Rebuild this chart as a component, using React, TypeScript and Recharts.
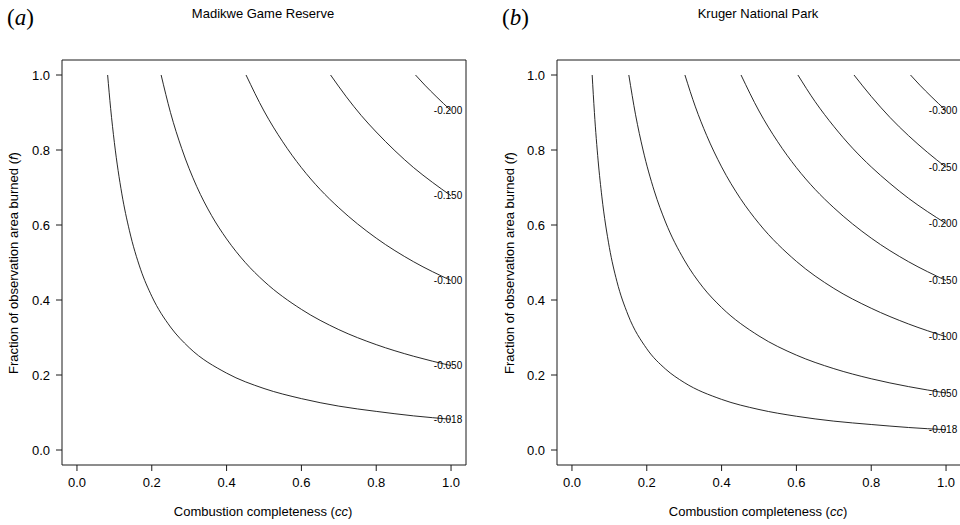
import React from 'react';
import { LineChart, Line, XAxis, YAxis } from 'recharts';

// Tick positions shared by both panels
const axisTicks = [0, 0.2, 0.4, 0.6, 0.8, 1.0];

// Madikwe Game Reserve contours: [cc, f]
const madikweLabels = ['-0.018', '-0.050', '-0.100', '-0.150', '-0.200'];
const mCurve1: [number, number][] = [
  [0.082, 1.0], [0.09, 0.911], [0.1, 0.82], [0.12, 0.683], [0.14, 0.586], [0.17, 0.482],
  [0.2, 0.41], [0.25, 0.328], [0.3, 0.273], [0.4, 0.205], [0.5, 0.164], [0.6, 0.137],
  [0.7, 0.117], [0.8, 0.103], [0.9, 0.091], [1.0, 0.082],
];
const mCurve2: [number, number][] = [
  [0.225, 1.0], [0.25, 0.9], [0.28, 0.804], [0.32, 0.703], [0.36, 0.625], [0.4, 0.563],
  [0.45, 0.5], [0.5, 0.45], [0.6, 0.375], [0.7, 0.321], [0.8, 0.281], [0.9, 0.25], [1.0, 0.225],
];
const mCurve3: [number, number][] = [
  [0.452, 1.0], [0.5, 0.904], [0.55, 0.822], [0.6, 0.753], [0.65, 0.695], [0.7, 0.646],
  [0.8, 0.565], [0.9, 0.502], [1.0, 0.452],
];
const mCurve4: [number, number][] = [
  [0.678, 1.0], [0.72, 0.942], [0.76, 0.892], [0.8, 0.848], [0.85, 0.798], [0.9, 0.753],
  [0.95, 0.714], [1.0, 0.678],
];
const mCurve5: [number, number][] = [
  [0.905, 1.0], [0.93, 0.973], [0.96, 0.943], [1.0, 0.905],
];

// Kruger National Park contours: [cc, f]
const krugerLabels = ['-0.018', '-0.050', '-0.100', '-0.150', '-0.200', '-0.250', '-0.300'];
const kCurve1: [number, number][] = [
  [0.054, 1.0], [0.06, 0.9], [0.07, 0.771], [0.08, 0.675], [0.1, 0.54], [0.12, 0.45],
  [0.15, 0.36], [0.2, 0.27], [0.25, 0.216], [0.3, 0.18], [0.4, 0.135], [0.5, 0.108],
  [0.6, 0.09], [0.7, 0.077], [0.8, 0.068], [0.9, 0.06], [1.0, 0.054],
];
const kCurve2: [number, number][] = [
  [0.152, 1.0], [0.17, 0.894], [0.19, 0.8], [0.22, 0.691], [0.25, 0.608], [0.3, 0.507],
  [0.35, 0.434], [0.4, 0.38], [0.5, 0.304], [0.6, 0.253], [0.7, 0.217], [0.8, 0.19],
  [0.9, 0.169], [1.0, 0.152],
];
const kCurve3: [number, number][] = [
  [0.302, 1.0], [0.33, 0.915], [0.36, 0.839], [0.4, 0.755], [0.45, 0.671], [0.5, 0.604],
  [0.6, 0.503], [0.7, 0.431], [0.8, 0.378], [0.9, 0.336], [1.0, 0.302],
];
const kCurve4: [number, number][] = [
  [0.452, 1.0], [0.5, 0.904], [0.55, 0.822], [0.6, 0.753], [0.65, 0.695], [0.7, 0.646],
  [0.8, 0.565], [0.9, 0.502], [1.0, 0.452],
];
const kCurve5: [number, number][] = [
  [0.604, 1.0], [0.65, 0.929], [0.7, 0.863], [0.75, 0.805], [0.8, 0.755], [0.85, 0.711],
  [0.9, 0.671], [0.95, 0.636], [1.0, 0.604],
];
const kCurve6: [number, number][] = [
  [0.754, 1.0], [0.8, 0.943], [0.85, 0.887], [0.9, 0.838], [0.95, 0.794], [1.0, 0.754],
];
const kCurve7: [number, number][] = [
  [0.905, 1.0], [0.93, 0.973], [0.96, 0.943], [1.0, 0.905],
];

const madikweCurves = [mCurve1, mCurve2, mCurve3, mCurve4, mCurve5];
const krugerCurves = [kCurve1, kCurve2, kCurve3, kCurve4, kCurve5, kCurve6, kCurve7];

const FONT = '"Liberation Sans", Arial, Helvetica, sans-serif';
const INK = '#1a1a1a';
const DOMAIN: [number, number] = [-0.04, 1.04];

const toRows = (c: [number, number][]) => c.map(([cc, f]) => ({ cc, f }));

function makeLabel(text: string, lastIndex: number) {
  return (props: any) => {
    if (props.index !== lastIndex) return null;
    return (
      <text
        key={'lbl' + text}
        x={props.x - 3}
        y={props.y}
        textAnchor="middle"
        dominantBaseline="central"
        fontSize={10}
        fontFamily={FONT}
        fill="#000"
      >
        {text}
      </text>
    );
  };
}

function Panel({
  curves,
  labels,
  width,
  margin,
}: {
  curves: [number, number][][];
  labels: string[];
  width: number;
  margin: { top: number; right: number; bottom: number; left: number };
}) {
  const tickStyle = { fill: '#000', fontSize: 13, fontFamily: FONT };
  return (
    <LineChart width={width} height={525} margin={margin} style={{ fontFamily: FONT }}>
      <XAxis
        xAxisId="0"
        dataKey="cc"
        type="number"
        domain={DOMAIN}
        ticks={axisTicks}
        allowDataOverflow
        tickFormatter={(v: number) => v.toFixed(1)}
        tick={tickStyle}
        tickSize={6}
        tickMargin={7}
        height={60}
        stroke={INK}
        interval={0}
      />
      <XAxis
        xAxisId="top"
        orientation="top"
        type="number"
        domain={DOMAIN}
        ticks={axisTicks}
        allowDataOverflow
        tick={false}
        tickSize={6}
        height={10}
        stroke={INK}
        interval={0}
      />
      <YAxis
        yAxisId="0"
        type="number"
        domain={DOMAIN}
        ticks={axisTicks}
        allowDataOverflow
        tickFormatter={(v: number) => v.toFixed(1)}
        tick={tickStyle}
        tickSize={6}
        tickMargin={6}
        width={40}
        stroke={INK}
        interval={0}
      />
      <YAxis
        yAxisId="right"
        orientation="right"
        type="number"
        domain={DOMAIN}
        ticks={axisTicks}
        allowDataOverflow
        tick={false}
        tickSize={6}
        width={10}
        stroke={INK}
        interval={0}
      />
      {curves.map((c, i) => (
        <Line
          key={i}
          xAxisId="0"
          yAxisId="0"
          data={toRows(c)}
          dataKey="f"
          type="monotone"
          stroke="#111"
          strokeWidth={0.9}
          dot={false}
          activeDot={false}
          isAnimationActive={false}
          label={makeLabel(labels[i], c.length - 1)}
        />
      ))}
    </LineChart>
  );
}

const abs = (s: React.CSSProperties): React.CSSProperties => ({ position: 'absolute', ...s });

export default function App() {
  const textBase: React.CSSProperties = { fontFamily: FONT, fontSize: 13, color: '#000', whiteSpace: 'nowrap' };
  return (
    <div style={abs({ left: 0, top: 0, width: 960, height: 525, overflow: 'hidden', background: '#fff' })}>
      <div style={abs({ left: 0, top: 0 })}>
        <Panel
          curves={madikweCurves}
          labels={madikweLabels}
          width={480}
          margin={{ top: 50, right: 4, bottom: 0, left: 22 }}
        />
      </div>
      <div style={abs({ left: 480, top: 0 })}>
        <Panel
          curves={krugerCurves}
          labels={krugerLabels}
          width={491}
          margin={{ top: 50, right: 0, bottom: 0, left: 37 }}
        />
      </div>

      {/* panel letters */}
      <div style={abs({ left: 7, top: 4, fontFamily: '"Liberation Serif", "DejaVu Serif", serif', fontSize: 23, lineHeight: '28px' })}>
        (<i>a</i>)
      </div>
      <div style={abs({ left: 502, top: 4, fontFamily: '"Liberation Serif", "DejaVu Serif", serif', fontSize: 23, lineHeight: '28px' })}>
        (<i>b</i>)
      </div>

      {/* titles */}
      <div style={abs({ ...textBase, left: 263, top: 6, transform: 'translateX(-50%)', lineHeight: '16px' })}>
        Madikwe Game Reserve
      </div>
      <div style={abs({ ...textBase, left: 758, top: 6, transform: 'translateX(-50%)', lineHeight: '16px' })}>
        Kruger National Park
      </div>

      {/* x axis titles */}
      <div style={abs({ ...textBase, left: 263, top: 504, transform: 'translateX(-50%)', lineHeight: '16px' })}>
        Combustion completeness (<i>cc</i>)
      </div>
      <div style={abs({ ...textBase, left: 758, top: 504, transform: 'translateX(-50%)', lineHeight: '16px' })}>
        Combustion completeness (<i>cc</i>)
      </div>

      {/* y axis titles */}
      <div
        style={abs({
          ...textBase,
          left: 14,
          top: 263,
          lineHeight: '16px',
          transform: 'translate(-50%, -50%) rotate(-90deg)',
        })}
      >
        Fraction of observation area burned (<i>f</i>)
      </div>
      <div
        style={abs({
          ...textBase,
          left: 510,
          top: 263,
          lineHeight: '16px',
          transform: 'translate(-50%, -50%) rotate(-90deg)',
        })}
      >
        Fraction of observation area burned (<i>f</i>)
      </div>
    </div>
  );
}
